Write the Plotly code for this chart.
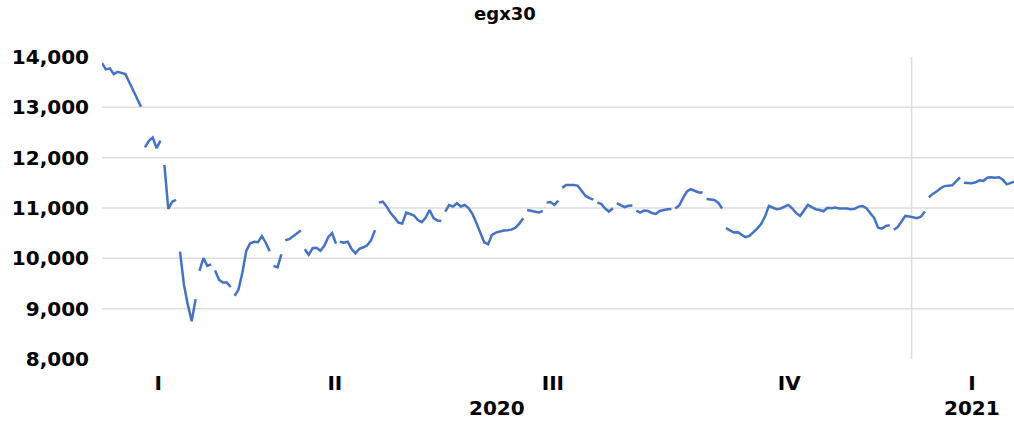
import plotly.graph_objects as go

# EGX30 closing values, one per trading session (session 0 = first visible day)
closes = [
    13880, 13754, 13774, 13661, 13706, 13686, 13660, 13500, 13340, 13190, 13010,
    12206, 12330, 12400, 12190, 12337,
    11855, 10980, 11127, 11160,
    10135, 9480, 9080, 8750, 9190,
    9750, 10004, 9850, 9880,
    9760, 9574, 9520, 9520, 9430,
    9256, 9380, 9720, 10150, 10300, 10330, 10320, 10440, 10310, 10140,
    9850, 9820, 10080,
    10360, 10380, 10440, 10500, 10552,
    10180, 10070, 10200, 10210, 10150, 10250, 10420, 10500, 10290,
    10330, 10310, 10330, 10185, 10100, 10190, 10220, 10260, 10360, 10560,
    11107, 11127, 11028, 10900, 10810, 10711, 10690, 10909, 10880, 10850,
    10760, 10718, 10810, 10960, 10800, 10750, 10740,
    10930, 11060, 11028, 11095, 11030, 11060, 11000, 10880, 10700, 10490,
    10320, 10280, 10467, 10510, 10533, 10552, 10560, 10570, 10610, 10690, 10798,
    10962, 10940, 10920, 10910, 10945,
    11107, 11120, 11062, 11147,
    11400, 11455, 11459, 11459, 11440, 11340, 11240, 11195, 11165,
    11107, 11081, 10990, 10929, 10996,
    11095, 11055, 11016, 11045, 11050,
    10949, 10909, 10950, 10940, 10900, 10883, 10940, 10965, 10976, 10980,
    10990, 11050, 11200, 11330, 11373, 11340, 11310, 11310,
    11180, 11170, 11160, 11107, 10990,
    10600, 10552, 10512, 10520, 10470, 10420, 10446, 10512, 10590, 10680,
    10830, 11040, 11000, 10976, 10990, 11025, 11062, 10990, 10897, 10843,
    10962, 11060, 11016, 10976, 10960, 10935, 11005, 10996, 11009, 10990,
    10990, 10990, 10975, 10985, 11028, 11040, 10996, 10905, 10800, 10610,
    10590, 10645, 10659,
    10566, 10619, 10731, 10843, 10830, 10817, 10798, 10830, 10930,
    11214, 11280, 11326, 11393, 11435, 11440, 11450, 11530, 11610,
    11504, 11495, 11492, 11510, 11550, 11540, 11600, 11610, 11600, 11611,
    11560, 11470, 11492, 11525,
]

# sessions after which the plotted line is broken
gap_after = [10, 15, 19, 24, 28, 33, 43, 46, 51, 60, 70, 87, 108, 113, 117,
             126, 131, 136, 146, 154, 159, 202, 211, 220]

quarter_labels = ["I", "II", "III", "IV", "I"]
quarter_pos = [14.4, 59.7, 115.6, 176.2, 223.1]
year_labels = ["2020", "2021"]
year_pos = [101.3, 223.1]
year_boundary = 207.6

y_ticks = [8000, 9000, 10000, 11000, 12000, 13000, 14000]

xs, ys = [], []
for s, v in enumerate(closes):
    xs.append(s)
    ys.append(v)
    if s in gap_after:
        xs.append(None)
        ys.append(None)

FONT = "DejaVu Sans"

fig = go.Figure()
fig.add_trace(go.Scatter(
    x=xs, y=ys, mode="lines",
    line=dict(color="#4472C4", width=2.5),
    connectgaps=False, hoverinfo="skip", showlegend=False,
))

for v in y_ticks[1:-1]:
    fig.add_shape(type="line", xref="paper", x0=0, x1=1, yref="y", y0=v, y1=v,
                  line=dict(color="#dedede", width=1.5), layer="below")

fig.add_shape(type="line", xref="x", x0=year_boundary, x1=year_boundary,
              yref="paper", y0=0, y1=1,
              line=dict(color="#dedede", width=1.5), layer="below")

for lab, pos in zip(year_labels, year_pos):
    fig.add_annotation(text=lab, x=pos, xref="x", y=-0.162, yref="paper",
                       xanchor="center", yanchor="middle", showarrow=False,
                       font=dict(family=FONT, size=20, color="#000000", weight="bold"))

fig.update_layout(
    width=1014, height=421,
    margin=dict(l=102, r=0, t=57, b=62),
    paper_bgcolor="white", plot_bgcolor="white",
    title=dict(text="egx30", x=0.498, xref="container", xanchor="center",
               y=1 - 14 / 421, yref="container", yanchor="middle",
               font=dict(family=FONT, size=18, color="#000000", weight="bold")),
    xaxis=dict(range=[0, 912 / 3.9], showgrid=False, zeroline=False, showline=False,
               tickmode="array", tickvals=quarter_pos, ticktext=quarter_labels,
               ticks="", ticklabelstandoff=10,
               tickfont=dict(family=FONT, size=20, color="#000000", weight="bold")),
    yaxis=dict(range=[8000, 14000], showgrid=False, zeroline=False, showline=False,
               tickmode="array", tickvals=y_ticks, tickformat=",",
               ticks="", ticklabelstandoff=12,
               tickfont=dict(family=FONT, size=20, color="#000000", weight="bold")),
)

fig.write_html("out.html")
